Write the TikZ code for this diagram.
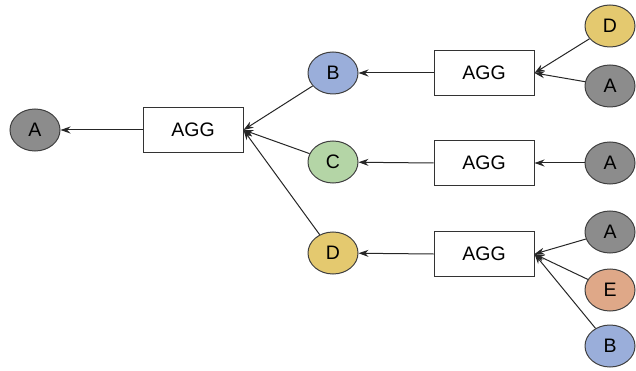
\documentclass[tikz,border=0pt]{standalone}
\usepackage{fontspec}
\setmainfont{Liberation Sans}
\usetikzlibrary{arrows.meta,shapes.geometric}

\definecolor{grayfill}{HTML}{8C8C8C}
\definecolor{bluefill}{HTML}{9AAEDA}
\definecolor{greenfill}{HTML}{B4D5A6}
\definecolor{yellowfill}{HTML}{E4C96F}
\definecolor{orangefill}{HTML}{DFA888}

\tikzset{
  vert/.style={ellipse,draw=black!75,line width=1pt,minimum width=50pt,minimum height=42pt,inner sep=0pt,font=\fontsize{19.5}{22}\selectfont},
  aggbox/.style={rectangle,draw=black!80,line width=1pt,fill=white,minimum width=100pt,minimum height=45pt,font=\fontsize{19.5}{22}\selectfont},
  msg/.style={draw=black!85,line width=1pt,-{Stealth[length=10pt,width=7pt]}}
}

\begin{document}
\begin{tikzpicture}[x=1pt,y=-1pt]
\useasboundingbox (0,0) rectangle (636,371);
% target node and first aggregation
\node[vert,fill=grayfill] (a0) at (35,130) {A};
\node[aggbox] (agg0) at (193,130) {AGG};
% first hop neighbours
\node[vert,fill=bluefill] (b1) at (333,73) {B};
\node[vert,fill=greenfill] (c1) at (333,162) {C};
\node[vert,fill=yellowfill] (d1) at (333,253) {D};
% second aggregations
\node[aggbox] (aggb) at (484,73) {AGG};
\node[aggbox] (aggc) at (484,163) {AGG};
\node[aggbox] (aggd) at (484,254) {AGG};
% second hop neighbours
\node[vert,fill=yellowfill] (d2) at (610,26) {D};
\node[vert,fill=grayfill] (a2) at (610,86) {A};
\node[vert,fill=grayfill] (a3) at (610,163) {A};
\node[vert,fill=grayfill] (a4) at (610,232) {A};
\node[vert,fill=orangefill] (e2) at (610,290) {E};
\node[vert,fill=bluefill] (b2) at (610,346) {B};

\draw[msg] (agg0.west) -- (a0);
\foreach \n in {b1,c1,d1} \draw[msg] (\n) -- (agg0.east);
\draw[msg] (aggb.west) -- (b1);
\draw[msg] (aggc.west) -- (c1);
\draw[msg] (aggd.west) -- (d1);
\foreach \n in {d2,a2} \draw[msg] (\n) -- (aggb.east);
\draw[msg] (a3) -- (aggc.east);
\foreach \n in {a4,e2,b2} \draw[msg] (\n) -- (aggd.east);
\end{tikzpicture}
\end{document}
